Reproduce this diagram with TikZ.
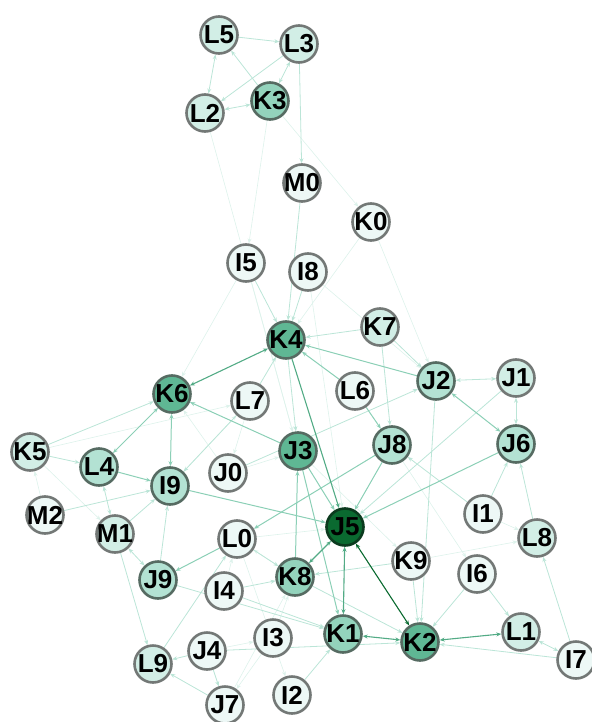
\documentclass[tikz,border=0pt]{standalone}
\usepackage{fontspec}
\setmainfont{Liberation Sans}
\usetikzlibrary{arrows.meta,backgrounds}
\definecolor{gnA}{HTML}{EDF8F6}
\definecolor{gnB}{HTML}{D2EEE6}
\definecolor{gnC}{HTML}{B3E2D3}
\definecolor{gnD}{HTML}{93D3BC}
\definecolor{gnE}{HTML}{5FB794}
\definecolor{gnF}{HTML}{0A6A30}
\definecolor{rimA}{HTML}{737876}
\definecolor{rimB}{HTML}{566B62}
\definecolor{rimF}{HTML}{0B3A1E}
\newcommand\vname[1]{\makebox[0pt]{#1}}
\begin{document}
\begin{tikzpicture}[x=1pt,y=-1pt,
vtx/.style={circle,draw=rimA,line width=2.6pt,minimum size=37pt,inner sep=0pt,
  font=\fontsize{26}{26}\selectfont\bfseries,text=black},
vA/.style={vtx,fill=gnA},
vB/.style={vtx,fill=gnB},
vC/.style={vtx,fill=gnC,draw=rimB},
vD/.style={vtx,fill=gnD,draw=rimB},
vE/.style={vtx,fill=gnE,draw=rimB},
vF/.style={vtx,fill=gnF,draw=rimF},
tip/.style={arrows={-Stealth[length=5pt,width=4pt]}},
tipb/.style={arrows={Stealth[length=5pt,width=4pt]-Stealth[length=5pt,width=4pt]}},
ln0/.style={draw=gnC!45,line width=.6pt},
ln1/.style={draw=gnC!90,line width=.8pt},
ln2/.style={draw=gnD!85!gnE,line width=1pt},
ln3/.style={draw=gnE!85!gnF,line width=1.1pt},
ln4/.style={draw=gnF,line width=1.1pt}]
\useasboundingbox (0,0) rectangle (591,722);

% vertices
\node[vB] (L5) at (219,35) {\vname{L5}};
\node[vB] (L3) at (299,44) {\vname{L3}};
\node[vB] (L2) at (205,113) {\vname{L2}};
\node[vD] (K3) at (270,101) {\vname{K3}};
\node[vA] (M0) at (302,183) {\vname{M0}};
\node[vA] (K0) at (371,222) {\vname{K0}};
\node[vA] (I5) at (246,263) {\vname{I5}};
\node[vA] (I8) at (308,272) {\vname{I8}};
\node[vE] (K4) at (286,340) {\vname{K4}};
\node[vB] (K7) at (380,327) {\vname{K7}};
\node[vC] (J2) at (436,381) {\vname{J2}};
\node[vB] (J1) at (516,378) {\vname{J1}};
\node[vA] (L6) at (355,391) {\vname{L6}};
\node[vA] (L7) at (250,401) {\vname{L7}};
\node[vE] (K6) at (172,394) {\vname{K6}};
\node[vC] (J8) at (392,445) {\vname{J8}};
\node[vC] (J6) at (516,444) {\vname{J6}};
\node[vE] (J3) at (298,451) {\vname{J3}};
\node[vB] (K5) at (30,452) {\vname{K5}};
\node[vC] (L4) at (99,467) {\vname{L4}};
\node[vC] (I9) at (170,486) {\vname{I9}};
\node[vA] (J0) at (228,473) {\vname{J0}};
\node[vA] (M2) at (45,515) {\vname{M2}};
\node[vB] (M1) at (115,534) {\vname{M1}};
\node[vF] (J5) at (345,527) {\vname{J5}};
\node[vA] (I1) at (483,514) {\vname{I1}};
\node[vB] (L8) at (537,538) {\vname{L8}};
\node[vA] (L0) at (237,539) {\vname{L0}};
\node[vC] (J9) at (158,580) {\vname{J9}};
\node[vA] (K9) at (411,561) {\vname{K9}};
\node[vA] (I6) at (477,574) {\vname{I6}};
\node[vD] (K8) at (295,577) {\vname{K8}};
\node[vA] (I4) at (224,591) {\vname{I4}};
\node[vD] (K1) at (343,634) {\vname{K1}};
\node[vE] (K2) at (420,642) {\vname{K2}};
\node[vB] (L1) at (521,632) {\vname{L1}};
\node[vA] (I7) at (576,660) {\vname{I7}};
\node[vA] (I3) at (273,638) {\vname{I3}};
\node[vA] (J4) at (207,651) {\vname{J4}};
\node[vB] (L9) at (153,664) {\vname{L9}};
\node[vA] (I2) at (292,695) {\vname{I2}};
\node[vA] (J7) at (225,705) {\vname{J7}};

% connectors
\begin{scope}[on background layer]
\foreach \a/\b in {L2/J3,K3/I5,K3/K0,K0/J2,K0/K4,I8/J2,K5/M1,M2/K5,I3/J7,J7/K8,
  J8/I6,I1/L8,K9/L8,L0/J5,J0/J3,J0/K6,I5/J3,I8/J5,K5/L7,I4/L0,I3/K8,J4/I3,
  L7/J0,I5/K6,L0/I2,J3/K9,K8/L0,I9/L7}
  \draw[ln0,tip] (\a) -- (\b);
\foreach \a/\b in {L5/L3,L3/L2,K3/L5,K7/K4,L7/K4,K7/J8,K7/J2,K5/K6,K5/L4,
  M1/I9,J9/I9,M1/L9,J7/L9,L9/L0,J4/J7,I4/K8,I4/K1,J9/K1,K8/K2,I7/K2,I7/L8,
  L8/J6,I1/J6,I1/J8,J2/K2,K9/K2,K9/K8,I6/K2,I6/L1,J0/J2,L0/K8,M0/K4,L3/M0,
  I8/K4,I5/K4,M2/I9,J1/J5,J4/K2,I2/K1,K4/J3,L7/I9,J4/L9}
  \draw[ln1,tip] (\a) -- (\b);
\foreach \a/\b in {L5/L2,K3/L3,K3/L2,L4/M1,M1/J9,I7/L1,J1/J6,J2/J1}
  \draw[ln1,tipb] (\a) -- (\b);
\foreach \a/\b in {J3/K6,L6/K4,J2/K4,L6/J8,J3/J5,J8/J5,J6/J5,L0/J9,I9/J5,
  J3/K1,K8/J3,J8/L0,L4/I9}
  \draw[ln2,tip] (\a) -- (\b);
\foreach \a/\b in {K6/L4,K6/I9,J2/J6}
  \draw[ln2,tipb] (\a) -- (\b);
\draw[ln3,tip] (K4) -- (J5);
\foreach \a/\b in {K6/K4,J5/K1,J5/K8,K2/L1,K1/K2}
  \draw[ln3,tipb] (\a) -- (\b);
\draw[ln4,tipb] (J5) -- (K2);
\end{scope}
\end{tikzpicture}
\end{document}
